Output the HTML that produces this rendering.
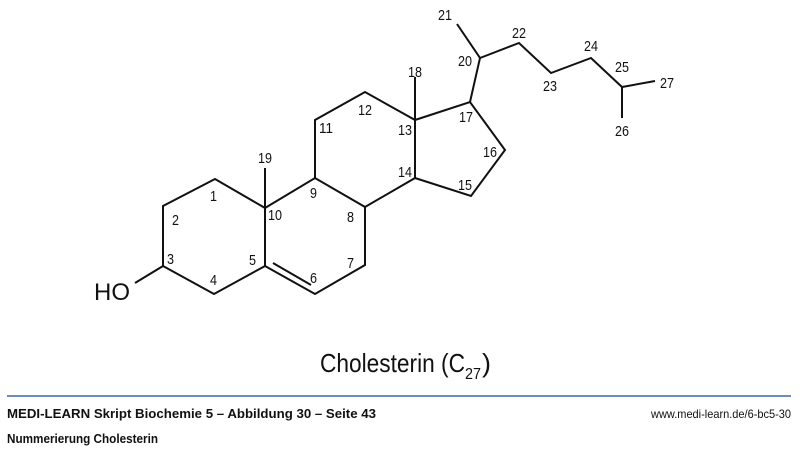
<!DOCTYPE html>
<html><head><meta charset="utf-8"><style>
html,body{margin:0;padding:0;background:#fff;width:800px;height:449px;overflow:hidden}
svg{display:block}
text{font-family:"Liberation Sans",sans-serif;fill:#111}
.l{font-size:15px}
</style></head><body>
<svg width="800" height="449" viewBox="0 0 800 449">
<g stroke="#111" stroke-width="2" fill="none" stroke-linejoin="miter">
<polyline points="135,283 163,266 163,206 215,179 265,208 265,266 214,294 163,266"/>
<polyline points="265,208 315,178 365,207 365,265 315,294 265,266"/>
<line x1="273" y1="263" x2="311" y2="285"/>
<line x1="265" y1="208" x2="265" y2="168"/>
<polyline points="315,178 315,120 365,92 415,120 415,178 365,207"/>
<polyline points="415,120 470,102 505,150 471,196 415,178"/>
<line x1="415" y1="120" x2="415" y2="77"/>
<polyline points="470,102 480,58 457,24"/>
<polyline points="480,58 519,43 551,73 591,58 622,87 655,81"/>
<line x1="622" y1="87" x2="622" y2="118"/>
</g>
<text x="94" y="300" font-size="24">HO</text>
<g class="l" lengthAdjust="spacingAndGlyphs">
<text x="210" y="201" textLength="7" lengthAdjust="spacingAndGlyphs">1</text>
<text x="172" y="225" textLength="7" lengthAdjust="spacingAndGlyphs">2</text>
<text x="167" y="264" textLength="7" lengthAdjust="spacingAndGlyphs">3</text>
<text x="210" y="285" textLength="7" lengthAdjust="spacingAndGlyphs">4</text>
<text x="249" y="265" textLength="7" lengthAdjust="spacingAndGlyphs">5</text>
<text x="310" y="283" textLength="7" lengthAdjust="spacingAndGlyphs">6</text>
<text x="347" y="268" textLength="7" lengthAdjust="spacingAndGlyphs">7</text>
<text x="347" y="222" textLength="7" lengthAdjust="spacingAndGlyphs">8</text>
<text x="310" y="198" textLength="7" lengthAdjust="spacingAndGlyphs">9</text>
<text x="268" y="220" textLength="14" lengthAdjust="spacingAndGlyphs">10</text>
<text x="319" y="133" textLength="14" lengthAdjust="spacingAndGlyphs">11</text>
<text x="358" y="115" textLength="14" lengthAdjust="spacingAndGlyphs">12</text>
<text x="398" y="135" textLength="14" lengthAdjust="spacingAndGlyphs">13</text>
<text x="398" y="177" textLength="14" lengthAdjust="spacingAndGlyphs">14</text>
<text x="458" y="190" textLength="14" lengthAdjust="spacingAndGlyphs">15</text>
<text x="483" y="157" textLength="14" lengthAdjust="spacingAndGlyphs">16</text>
<text x="459" y="122" textLength="14" lengthAdjust="spacingAndGlyphs">17</text>
<text x="408" y="77" textLength="14" lengthAdjust="spacingAndGlyphs">18</text>
<text x="258" y="163" textLength="14" lengthAdjust="spacingAndGlyphs">19</text>
<text x="458" y="66" textLength="14" lengthAdjust="spacingAndGlyphs">20</text>
<text x="438" y="20" textLength="14" lengthAdjust="spacingAndGlyphs">21</text>
<text x="512" y="38" textLength="14" lengthAdjust="spacingAndGlyphs">22</text>
<text x="543" y="91" textLength="14" lengthAdjust="spacingAndGlyphs">23</text>
<text x="584" y="51" textLength="14" lengthAdjust="spacingAndGlyphs">24</text>
<text x="615" y="72" textLength="14" lengthAdjust="spacingAndGlyphs">25</text>
<text x="615" y="136" textLength="14" lengthAdjust="spacingAndGlyphs">26</text>
<text x="660" y="88" textLength="14" lengthAdjust="spacingAndGlyphs">27</text>
</g>
<text x="320" y="372" font-size="26" textLength="145" lengthAdjust="spacingAndGlyphs">Cholesterin (C</text>
<text x="465" y="379" font-size="16" textLength="16" lengthAdjust="spacingAndGlyphs">27</text>
<text x="482" y="372" font-size="26" textLength="9" lengthAdjust="spacingAndGlyphs">)</text>
<line x1="7" y1="396" x2="791" y2="396" stroke="#3a6aa6" stroke-width="1.5"/>
<text x="7" y="418" font-size="13" font-weight="bold" textLength="369" lengthAdjust="spacingAndGlyphs">MEDI-LEARN Skript Biochemie 5 – Abbildung 30 – Seite 43</text>
<text x="651" y="418" font-size="12" textLength="140" lengthAdjust="spacingAndGlyphs">www.medi-learn.de/6-bc5-30</text>
<text x="7" y="443" font-size="13" font-weight="bold" textLength="151" lengthAdjust="spacingAndGlyphs">Nummerierung Cholesterin</text>
</svg>
</body></html>
